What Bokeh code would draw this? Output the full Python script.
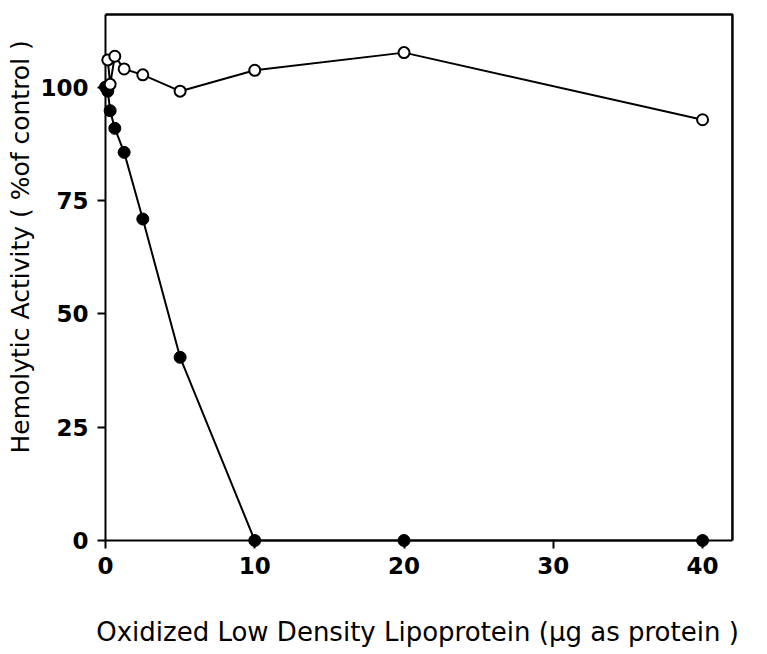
from bokeh.plotting import figure
from bokeh.models import Range1d, FixedTicker, Title
from bokeh.embed import file_html
from bokeh.resources import INLINE

# Oxidized LDL dose (ug protein) and hemolytic activity (% of control)
dose_open = [0.156, 0.3125, 0.625, 1.25, 2.5, 5, 10, 20, 40]
activity_open = [106.0, 100.6, 106.8, 104.0, 102.7, 99.1, 103.7, 107.6, 92.8]

dose_filled = [0, 0.156, 0.3125, 0.625, 1.25, 2.5, 5, 10, 20, 40]
activity_filled = [100.0, 99.1, 94.8, 90.9, 85.6, 70.9, 40.4, 0, 0, 0]

x_ticks = [0, 10, 20, 30, 40]
y_ticks = [0, 25, 50, 75, 100]

# axes box: x from 0 to 42, y from 0 to 116
X_MAX = 42
Y_MAX = 116

# The plotting frame reaches a few pixels past the axes box so that the
# markers sitting on the axes are drawn whole; the axis lines themselves
# are drawn at x=0 / y=0 and the ticks point inward from the frame edge
# up to those lines.
p = figure(width=767, height=654, output_backend="svg", toolbar_location=None,
           x_range=Range1d(-0.535, 42.34), y_range=Range1d(-1.764, 116.89),
           min_border_left=96, min_border_right=30,
           min_border_top=10, min_border_bottom=106)

p.background_fill_color = "white"
p.border_fill_color = "white"
p.outline_line_color = None
p.xgrid.visible = False
p.ygrid.visible = False

for ax in (p.xaxis[0], p.yaxis[0]):
    ax.axis_line_color = None
    ax.major_tick_line_width = 2
    ax.major_tick_line_color = "black"
    ax.major_tick_out = 0
    ax.major_tick_in = 8
    ax.minor_tick_line_color = None
    ax.major_label_text_font = "DejaVu Sans"
    ax.major_label_text_font_style = "bold"
    ax.major_label_text_font_size = "23px"
    ax.major_label_text_color = "black"

p.xaxis.ticker = FixedTicker(ticks=x_ticks)
p.yaxis.ticker = FixedTicker(ticks=y_ticks)
p.xaxis.major_label_standoff = 8
p.yaxis.major_label_standoff = 9

p.xaxis.axis_label = "Oxidized Low Density Lipoprotein (\u00b5g as protein )"
p.xaxis.axis_label_text_font = "DejaVu Sans"
p.xaxis.axis_label_text_font_style = "normal"
p.xaxis.axis_label_text_font_size = "26px"
p.xaxis.axis_label_text_color = "black"
p.xaxis.axis_label_standoff = 40

p.add_layout(Title(text="Hemolytic Activity ( %of control )", align="left",
                   offset=95, standoff=6, vertical_align="bottom",
                   text_font="DejaVu Sans", text_font_style="normal",
                   text_font_size="25px", text_color="black"), "left")

# axis lines along x=0 and y=0
p.line([0, 0, X_MAX], [Y_MAX, 0, 0], line_color="black", line_width=2)
# top and right edges of the box
p.line([0, X_MAX, X_MAX], [Y_MAX, Y_MAX, 0], line_color="black", line_width=2.5)

# connecting lines
p.line(dose_filled, activity_filled, line_color="black", line_width=2)
p.line(dose_open, activity_open, line_color="black", line_width=2)

# markers
p.scatter(dose_filled, activity_filled, marker="circle", size=12,
          fill_color="black", line_color="black", line_width=1)
p.scatter(dose_open, activity_open, marker="circle", size=11,
          fill_color="white", line_color="black", line_width=2)

open("out.html", "w").write(file_html(p, INLINE))
